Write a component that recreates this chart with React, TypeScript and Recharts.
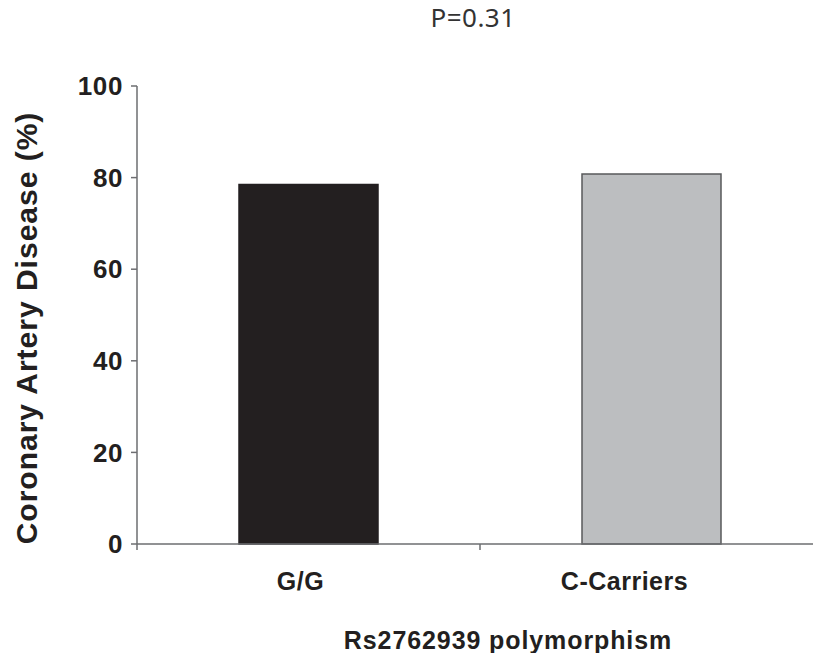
import React from 'react';
import { BarChart, Bar, XAxis, YAxis, Cell } from 'recharts';

// Share of patients with coronary artery disease per Rs2762939 genotype group
const genotypes = ['G/G', 'C-Carriers'];
const cadPercent = [78.5, 80.8];
const yTicks = [0, 20, 40, 60, 80, 100];
const pValueLabel = 'P=0.31';
const yTitle = 'Coronary Artery Disease (%)';
const xTitle = 'Rs2762939 polymorphism';

const barFills = ['#231f20', '#bcbec0'];
const barStrokes = ['#231f20', '#58595b'];
const labelShift = [-8, -27];

const data = genotypes.map((g, i) => ({ genotype: g, value: cadPercent[i] }));

const FONT = '"Liberation Sans", Arial, sans-serif';
const TEXT = '#231f20';
const AXIS = '#6d6e71';

const CHART_W = 840;
const MARGIN = { top: 86, right: 17, bottom: 0, left: 0 };
const Y_AXIS_W = 137;
const PLOT_W = CHART_W - MARGIN.left - MARGIN.right - Y_AXIS_W;

// Category name under each bar, plus tick marks on the category boundaries.
const CategoryTick = (props: any) => {
  const { x, y, index, visibleTicksCount } = props;
  const count = visibleTicksCount || genotypes.length;
  const half = PLOT_W / count / 2;
  return (
    <g>
      {index === 0 && <line x1={x - half} y1={y} x2={x - half} y2={y + 6} stroke={AXIS} strokeWidth={1.5} />}
      <line x1={x + half} y1={y} x2={x + half} y2={y + 6} stroke={AXIS} strokeWidth={1.5} />
      <text
        x={x + labelShift[index]}
        y={y + 46}
        textAnchor="middle"
        fontFamily={FONT}
        fontWeight="bold"
        fontSize={25}
        letterSpacing={0.5}
        fill={TEXT}
      >
        {genotypes[index]}
      </text>
    </g>
  );
};

export default function App() {
  return (
    <div style={{ position: 'fixed', left: 0, top: 0, width: 813, height: 653, overflow: 'hidden', background: '#fff' }}>
      <BarChart width={CHART_W} height={653} data={data} margin={MARGIN} barSize={139}>
        <XAxis
          dataKey="genotype"
          height={109}
          tickSize={0}
          tickMargin={0}
          tickLine={false}
          interval={0}
          axisLine={{ stroke: AXIS, strokeWidth: 1.5 }}
          tick={<CategoryTick />}
        />
        <YAxis
          domain={[0, 100]}
          ticks={yTicks}
          width={Y_AXIS_W}
          tickSize={6}
          tickMargin={8}
          axisLine={{ stroke: AXIS, strokeWidth: 1.5 }}
          tickLine={{ stroke: AXIS, strokeWidth: 1.5 }}
          tick={{ fontFamily: FONT, fontWeight: 'bold', fontSize: 26, letterSpacing: 0.6, fill: TEXT }}
          interval={0}
        />
        <Bar dataKey="value" isAnimationActive={false}>
          {data.map((d, i) => (
            <Cell key={d.genotype} fill={barFills[i]} stroke={barStrokes[i]} strokeWidth={1.5} />
          ))}
        </Bar>
        <text x={473} y={27} textAnchor="middle" fontFamily='"Noto Sans", sans-serif' fontSize={26} letterSpacing={0.5} fill="#333">
          {pValueLabel}
        </text>
        <text
          x={37}
          y={328}
          transform="rotate(-90, 37, 328)"
          textAnchor="middle"
          fontFamily={FONT}
          fontWeight="bold"
          fontSize={30}
          letterSpacing={1}
          fill={TEXT}
        >
          {yTitle}
        </text>
        <text
          x={508}
          y={649}
          textAnchor="middle"
          fontFamily={FONT}
          fontWeight="bold"
          fontSize={25}
          letterSpacing={0.9}
          fill={TEXT}
        >
          {xTitle}
        </text>
      </BarChart>
    </div>
  );
}
